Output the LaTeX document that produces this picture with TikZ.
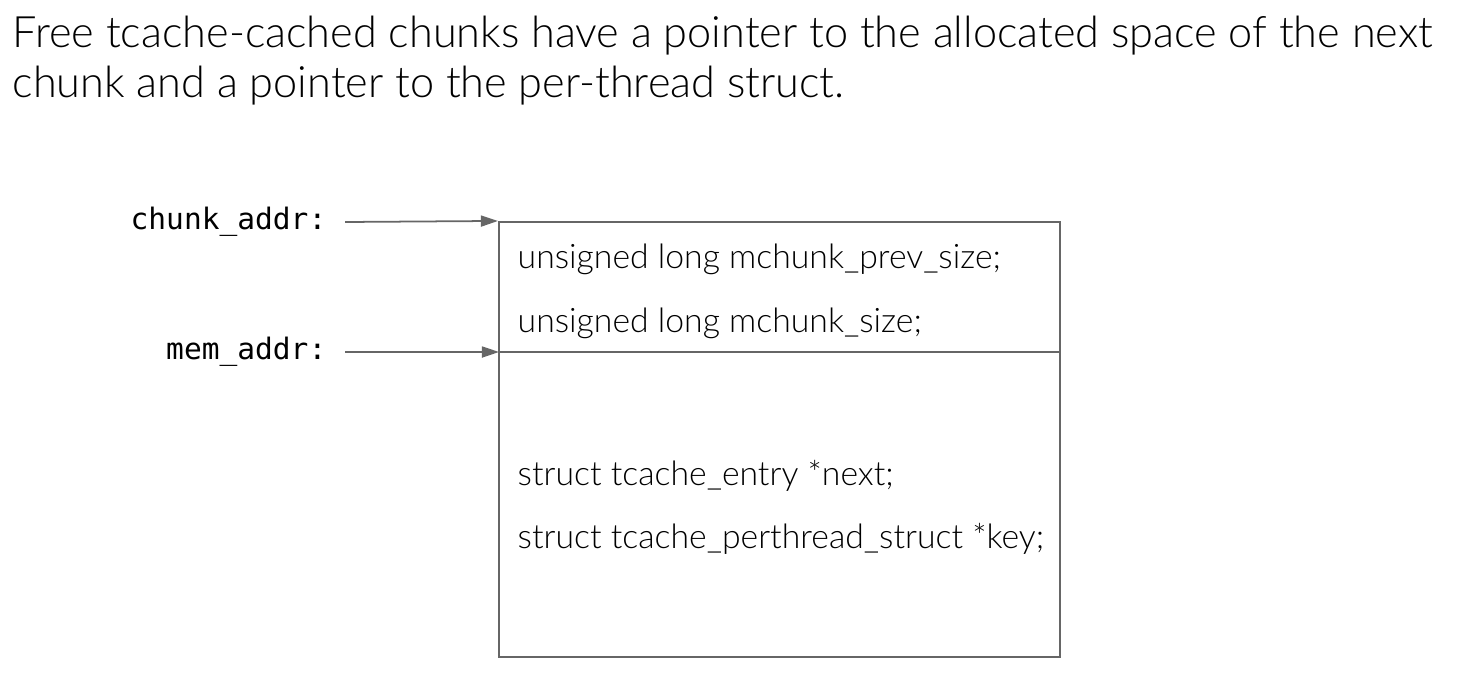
\documentclass[tikz,border=0pt]{standalone}
\usepackage{fontspec}
\IfFontExistsTF{Lato Light}{\setmainfont{Lato Light}}{\setmainfont{Lato}}
\setmonofont{DejaVu Sans Mono}
\usetikzlibrary{arrows.meta, positioning, fit}
\definecolor{linegray}{HTML}{666666}

\begin{document}
\begin{tikzpicture}[
  x=0.01cm, y=-0.01cm,
  field/.style={anchor=base west, inner sep=0pt, font=\fontsize{9.6}{12}\selectfont},
  addr/.style={anchor=east, inner sep=0pt, font=\ttfamily\fontsize{8.4}{10}\selectfont},
  ptr/.style={-{Triangle[length=0.17cm, width=0.11cm]}, linegray, line width=0.5pt}
]
\useasboundingbox (0,0) rectangle (1461,694);
\node[anchor=north west, inner sep=0pt, align=left, font=\fontsize{12.3}{14.2}\selectfont] (title) at (12,15)
  {Free tcache-cached chunks have a pointer to the allocated space of the next\\
   chunk and a pointer to the per-thread struct.};

% chunk layout
\coordinate (topleft) at (499,222);
\coordinate (botright) at (1060,657);
\node[fit=(topleft)(botright), inner sep=0pt, draw=linegray, line width=0.6pt] (chunk) {};
\coordinate (mem) at (499,352);
\draw[linegray, line width=0.6pt] (mem) -- (mem -| chunk.east);

\node[field] (prevsize) at (517,268) {unsigned long mchunk\_prev\_size;};
\node[field] (size)     at (517,332) {unsigned long mchunk\_size;};
\node[field] (next)     at (517,485) {struct tcache\_entry *next;};
\node[field] (key)      at (517,548) {struct tcache\_perthread\_struct *key;};

% pointers
\node[addr] (chunkaddr) at (327,222) {chunk\_addr:};
\node[addr] (memaddr)   at (327,352) {mem\_addr:};
\draw[ptr] ([xshift=0.18cm]chunkaddr.east) -- (chunk.north west);
\draw[ptr] ([xshift=0.18cm]memaddr.east) -- (mem);
\end{tikzpicture}
\end{document}
